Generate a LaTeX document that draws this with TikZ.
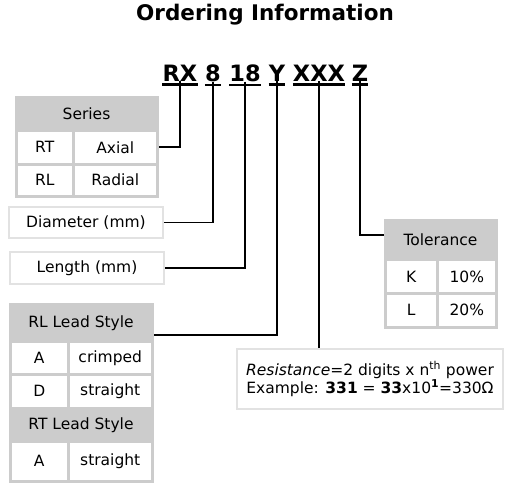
\documentclass[tikz,border=0pt]{standalone}
\usepackage{fontspec}
\setmainfont{DejaVu Sans}
\usepackage{xcolor}
\usepackage{tikz}
\usetikzlibrary{shapes}

\definecolor{tabgray}{RGB}{204,204,204}
\definecolor{boxgray}{RGB}{226,226,226}

\tikzset{
    txt/.style={font=\fontsize{15.5}{18}\selectfont},
    cell/.style={txt, draw=tabgray, line width=3pt, fill=white, anchor=north west, inner sep=0pt},
    hdr/.style={cell, fill=tabgray},
    plainbox/.style={txt, draw=boxgray, line width=2pt, anchor=north west, inner sep=0pt},
    code/.style={font=\fontsize{22.5}{26}\bfseries\selectfont, anchor=base, inner sep=0pt},
    uline/.style={line width=2.6pt},
    wire/.style={line width=1.6pt}
}

\begin{document}
\begin{tikzpicture}[x=1pt, y=-1pt]
        \useasboundingbox (0,0) rectangle (510,488);

        \node[font=\fontsize{21.5}{25}\bfseries\selectfont] (title) at (265,15) {Ordering Information};

        % part number
        \node[code] (rx) at (180,81) {RX};
        \node[code] (dia) at (213,81) {8};
        \node[code] (len) at (245,81) {18};
        \node[code] (lead) at (277,81) {Y};
        \node[code] (res) at (319,81) {XXX};
        \node[code] (tol) at (360,81) {Z};
        \foreach \c in {rx, dia, len, lead, res, tol}
            \draw[uline] ([yshift=-3.5pt]\c.south west) -- ([yshift=-3.5pt]\c.south east);

        % series
        \node[hdr, minimum width=141pt, minimum height=33.5pt] (serhead) at (14.5,95.5) {Series};
        \node[cell, minimum width=57.5pt, minimum height=33.5pt] (rt) at (14.5,129) {RT};
        \node[cell, minimum width=83.5pt, minimum height=33.5pt] (axial) at (72,129) {Axial};
        \node[cell, minimum width=57.5pt, minimum height=32pt] (rl) at (14.5,162.5) {RL};
        \node[cell, minimum width=83.5pt, minimum height=32pt] (radial) at (72,162.5) {Radial};

        % diameter, length
        \node[plainbox, minimum width=154pt, minimum height=31pt] (diabox) at (8,206) {Diameter (mm)};
        \node[plainbox, minimum width=154pt, minimum height=32pt] (lenbox) at (9,251) {Length (mm)};

        % lead style
        \node[hdr, minimum width=142pt, minimum height=37.5pt] (rlhead) at (8.5,302.5) {RL Lead Style};
        \node[cell, minimum width=58.5pt, minimum height=33pt] (la) at (8.5,340) {A};
        \node[cell, minimum width=83.5pt, minimum height=33pt] (crimped) at (67,340) {crimped};
        \node[cell, minimum width=58.5pt, minimum height=33.5pt] (ld) at (8.5,373) {D};
        \node[cell, minimum width=83.5pt, minimum height=33.5pt] (straight) at (67,373) {straight};
        \node[hdr, minimum width=142pt, minimum height=33.5pt] (rthead) at (8.5,406.5) {RT Lead Style};
        \node[cell, minimum width=58.5pt, minimum height=39.5pt] (ta) at (8.5,440) {A};
        \node[cell, minimum width=83.5pt, minimum height=39.5pt] (tstraight) at (67,440) {straight};

        % tolerance
        \node[hdr, minimum width=111pt, minimum height=39.5pt] (tolhead) at (383.5,218.5) {Tolerance};
        \node[cell, minimum width=52.5pt, minimum height=34pt] (tk) at (383.5,258) {K};
        \node[cell, minimum width=58.5pt, minimum height=34pt] (tten) at (436,258) {10\%};
        \node[cell, minimum width=52.5pt, minimum height=33.5pt] (tl) at (383.5,292) {L};
        \node[cell, minimum width=58.5pt, minimum height=33.5pt] (ttwenty) at (436,292) {20\%};

        % resistance
        \node[plainbox, minimum width=266pt, minimum height=60pt, align=center] (resbox) at (236,348)
            {\textit{Resistance}=2 digits x n\textsuperscript{th} power\\
             Example: \textbf{331} = \textbf{33}x10\textsuperscript{\textbf{1}}=330Ω};

        % connectors
        \draw[wire] (rx.south) |- (axial.east);
        \draw[wire] (dia.south) |- (diabox.east);
        \draw[wire] (len.south) |- (lenbox.east);
        \draw[wire] (lead.south) |- ([yshift=8pt]rlhead.south east);
        \draw[wire] (res.south) -- (res.south |- resbox.north);
        \draw[wire] (tol.south) |- ([yshift=5pt]tolhead.west);
    \end{tikzpicture}
\end{document}
